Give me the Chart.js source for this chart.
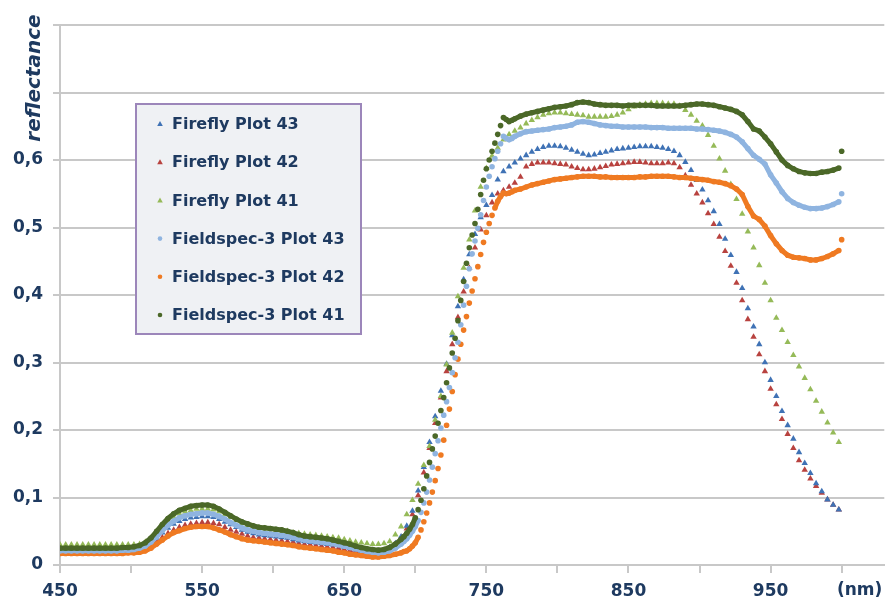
<!DOCTYPE html>
<html>
<head>
<meta charset="utf-8">
<title>Reflectance spectra</title>
<script src="https://cdn.jsdelivr.net/npm/chart.js@4.4.1/dist/chart.umd.min.js"></script>
<style>
  html, body { margin: 0; padding: 0; background: #ffffff; }
  #wrap { width: 888px; height: 603px; }
</style>
</head>
<body>
<div id="wrap"><canvas id="c" width="888" height="603"></canvas></div>
<script>
// ---- sampling wavelengths (nm) ----
function range(a, b, step) { const out = []; for (let v = a; v <= b; v += step) out.push(v); return out; }
const fireflyNm = range(450, 998, 4);
const fieldspecNm = range(450, 690, 4).concat(range(692, 770, 2), range(774, 998, 4), [1000]);

// ---- series labels ----
const seriesLabels = ['Firefly Plot 43', 'Firefly Plot 42', 'Firefly Plot 41',
                      'Fieldspec-3 Plot 43', 'Fieldspec-3 Plot 42', 'Fieldspec-3 Plot 41'];

// ---- axis tick labels ----
const xLabelValues = [450, 550, 650, 750, 850, 950];
const yLabelValues = [0, 0.1, 0.2, 0.3, 0.4, 0.5, 0.6];
const xUnitLabel = '(nm)';
const yTitle = 'reflectance';

// ---- Firefly reflectance (450..998 nm, 4 nm step) ----
const firefly43 = [
  .022,.022,.022,.022,.022,.022,.022,.022,.022,.022,
  .022,.022,.022,.023,.025,.028,.033,.040,.048,.055,
  .061,.065,.068,.070,.071,.072,.072,.071,.068,.064,
  .060,.056,.052,.049,.047,.045,.044,.043,.042,.041,
  .040,.038,.036,.035,.034,.033,.032,.031,.030,.029,
  .027,.025,.023,.021,.020,.019,.020,.022,.026,.032,
  .042,.058,.080,.110,.145,.182,.220,.258,.298,.340,
  .383,.423,.460,.490,.515,.533,.548,.571,.583,.590,
  .596,.602,.607,.612,.616,.619,.621,.621,.620,.618,
  .615,.612,.609,.607,.608,.610,.612,.614,.616,.617,
  .618,.619,.620,.620,.620,.619,.618,.616,.613,.607,
  .597,.585,.570,.556,.540,.524,.505,.483,.459,.434,
  .410,.380,.353,.327,.300,.274,.250,.228,.207,.187,
  .167,.151,.136,.121,.109,.097,.089,.082
];
const firefly42 = [
  .019,.019,.019,.019,.019,.019,.019,.019,.019,.019,
  .019,.019,.019,.020,.022,.025,.029,.035,.041,.047,
  .052,.056,.059,.061,.062,.063,.063,.062,.060,.056,
  .052,.049,.046,.043,.041,.040,.039,.038,.037,.036,
  .035,.034,.032,.031,.030,.029,.028,.027,.026,.025,
  .023,.022,.020,.019,.018,.017,.018,.020,.025,.031,
  .040,.054,.075,.103,.137,.173,.210,.248,.287,.327,
  .367,.405,.440,.470,.497,.518,.537,.550,.555,.560,
  .566,.575,.590,.594,.596,.596,.596,.595,.594,.593,
  .590,.588,.586,.586,.587,.589,.591,.593,.594,.595,
  .596,.597,.597,.596,.595,.595,.595,.596,.595,.589,
  .577,.563,.550,.537,.521,.505,.486,.465,.443,.418,
  .392,.364,.338,.312,.287,.261,.238,.216,.194,.173,
  .155,.141,.128,.117,.107,.097,.089,.082
];
const firefly41 = [
  .030,.030,.030,.030,.030,.030,.030,.030,.030,.030,
  .030,.030,.030,.030,.031,.034,.040,.048,.057,.065,
  .071,.076,.079,.081,.083,.083,.083,.082,.079,.075,
  .071,.066,.062,.059,.057,.055,.054,.053,.052,.051,
  .050,.048,.047,.046,.045,.044,.043,.042,.041,.040,
  .038,.036,.034,.033,.032,.031,.031,.032,.035,.045,
  .057,.075,.096,.120,.148,.176,.215,.250,.297,.344,
  .398,.440,.482,.525,.560,.588,.606,.618,.630,.638,
  .643,.648,.654,.659,.663,.667,.669,.670,.670,.669,
  .668,.667,.666,.664,.664,.664,.664,.665,.667,.670,
  .675,.679,.682,.683,.684,.684,.684,.683,.683,.680,
  .674,.667,.658,.651,.637,.621,.602,.584,.564,.542,
  .520,.494,.470,.444,.418,.392,.366,.348,.330,.311,
  .294,.277,.260,.243,.227,.211,.196,.182
];

// ---- Fieldspec-3 reflectance (450..690 by 4, 692..770 by 2, 774..998 by 4, 1000) ----
const fieldspec43 = [
  .021,.021,.021,.021,.021,.021,.021,.021,.021,.021,
  .021,.022,.022,.023,.025,.028,.034,.042,.051,.059,
  .065,.070,.073,.075,.076,.077,.077,.075,.072,.068,
  .063,.059,.055,.052,.050,.048,.047,.046,.045,.044,
  .043,.041,.039,.037,.036,.035,.034,.033,.032,.030,
  .028,.026,.024,.022,.020,.019,.018,.019,.021,.025,
  .031,
  .035,.039,.044,.050,.057,.066,.078,.092,.108,.126,
  .145,.165,.184,.203,.222,.242,.263,.285,.307,.330,
  .356,.385,.413,.439,.461,.480,.499,.519,.540,.560,
  .576,.590,.602,.613,.624,.635,.632,.630,.632,.635,
  .639,.642,.643,.644,.645,.646,.648,.649,.650,.652,
  .656,.657,.656,.654,.652,.651,.650,.650,.649,.649,
  .649,.649,.649,.648,.648,.648,.647,.647,.647,.647,
  .647,.646,.646,.645,.644,.643,.641,.638,.634,.627,
  .617,.607,.601,.594,.578,.566,.553,.543,.537,.533,
  .530,.528,.528,.529,.531,.534,.538,
  .550
];
const fieldspec42 = [
  .017,.017,.017,.017,.017,.017,.017,.017,.017,.017,
  .017,.017,.018,.018,.019,.021,.025,.031,.037,.043,
  .048,.051,.054,.056,.057,.057,.057,.055,.052,.049,
  .045,.042,.039,.037,.036,.035,.034,.033,.032,.031,
  .030,.029,.027,.026,.025,.024,.023,.022,.021,.019,
  .018,.016,.015,.014,.013,.012,.012,.013,.014,.016,
  .018,
  .020,.021,.024,.028,.033,.041,.052,.064,.077,.092,
  .108,.125,.143,.163,.185,.207,.231,.257,.282,.305,
  .327,.348,.368,.388,.406,.424,.442,.460,.478,.493,
  .506,.518,.529,.539,.546,.551,.550,.551,.553,.555,
  .557,.560,.563,.565,.567,.569,.571,.572,.573,.574,
  .575,.576,.576,.576,.575,.575,.574,.574,.574,.574,
  .574,.575,.575,.576,.576,.576,.576,.575,.574,.574,
  .573,.572,.571,.570,.568,.567,.565,.562,.557,.549,
  .531,.517,.512,.502,.488,.476,.466,.459,.456,.455,
  .454,.452,.452,.454,.457,.461,.466,
  .482
];
const fieldspec41 = [
  .025,.025,.025,.025,.025,.025,.025,.025,.025,.025,
  .025,.026,.026,.027,.029,.033,.040,.050,.060,.069,
  .076,.081,.084,.087,.088,.089,.089,.087,.083,.078,
  .073,.068,.064,.061,.058,.056,.055,.054,.053,.052,
  .050,.048,.045,.043,.042,.041,.040,.039,.037,.035,
  .033,.031,.028,.026,.024,.023,.022,.023,.026,.031,
  .038,
  .042,.047,.053,.060,.070,.082,.096,.113,.132,.152,
  .172,.191,.210,.229,.248,.270,.292,.314,.336,.362,
  .392,.420,.447,.470,.489,.506,.527,.549,.570,.587,
  .600,.613,.625,.638,.651,.663,.660,.657,.659,.661,
  .665,.668,.670,.672,.674,.676,.678,.679,.680,.682,
  .685,.686,.685,.683,.682,.681,.681,.681,.680,.681,
  .681,.681,.681,.681,.680,.680,.680,.680,.680,.681,
  .682,.683,.683,.682,.681,.679,.677,.675,.672,.667,
  .657,.646,.643,.634,.624,.612,.600,.592,.587,.583,
  .581,.580,.580,.582,.583,.585,.588,
  .613
];

// ---- series styles ----
const seriesColors = ['#3f72b5', '#b8423f', '#95ba58', '#8fb4e0', '#ef7a22', '#4b6828'];
const seriesShapes = ['triangle', 'triangle', 'triangle', 'circle', 'circle', 'circle'];
const seriesNm = [fireflyNm, fireflyNm, fireflyNm, fieldspecNm, fieldspecNm, fieldspecNm];
const seriesValues = [firefly43, firefly42, firefly41, fieldspec43, fieldspec42, fieldspec41];
const seriesDrawOrder = [4, 5, 3, 1, 2, 0]; // lower draws on top

const FONT = '"DejaVu Sans", "Liberation Sans", sans-serif';
const NAVY = '#1e3a60';
const GRID = '#c8c8c8';
const CLEAR = 'rgba(0,0,0,0)';

const datasets = seriesLabels.map((label, i) => {
  const dense = seriesShapes[i] === 'circle';
  return {
    label,
    data: seriesNm[i].map((nm, k) => ({ x: nm, y: seriesValues[i][k] })),
    // Fieldspec samples are dense: join them into a thick trace where the
    // curve is gentle, and leave the steep stretches as separate dots.
    showLine: dense,
    borderColor: seriesColors[i],
    borderWidth: dense ? 5 : 0,
    segment: dense ? {
      borderColor: (c) => {
        const dx = Math.abs(c.p1.x - c.p0.x) || 1;
        return Math.abs(c.p1.y - c.p0.y) / dx > 2.5 ? CLEAR : seriesColors[i];
      }
    } : undefined,
    pointStyle: seriesShapes[i],
    pointRadius: dense ? 2.8 : 3.7,
    pointBackgroundColor: seriesColors[i],
    pointBorderWidth: 0,
    pointHoverRadius: 0,
    order: seriesDrawOrder[i]
  };
});

// Legend panel, axis title and unit label drawn on the canvas
const decorations = {
  id: 'decorations',
  afterDraw(chart) {
    const ctx = chart.ctx;
    const area = chart.chartArea;
    const xs = chart.scales.x;

    // y axis title, rotated
    ctx.save();
    ctx.translate(35, 78);
    ctx.rotate(-Math.PI / 2);
    ctx.font = 'italic bold 20px ' + FONT;
    ctx.fillStyle = NAVY;
    ctx.textAlign = 'center';
    ctx.textBaseline = 'middle';
    ctx.fillText(yTitle, 0, 0);
    ctx.restore();

    // unit label next to the last x tick
    ctx.save();
    ctx.font = 'bold 17px ' + FONT;
    ctx.fillStyle = NAVY;
    ctx.textAlign = 'center';
    ctx.textBaseline = 'middle';
    ctx.fillText(xUnitLabel, xs.getPixelForValue(1000) + 18, area.bottom + 26);
    ctx.restore();

    // legend panel
    const bx = area.left + 76, by = area.top + 79, bw = 225, bh = 230;
    ctx.save();
    ctx.fillStyle = '#eff1f4';
    ctx.fillRect(bx, by, bw, bh);
    ctx.strokeStyle = '#9c86ba';
    ctx.lineWidth = 2;
    ctx.strokeRect(bx, by, bw, bh);
    ctx.font = 'bold 16px ' + FONT;
    ctx.textAlign = 'left';
    ctx.textBaseline = 'middle';
    seriesLabels.forEach((label, i) => {
      const y = by + 20 + i * 38.2;
      const mx = bx + 24;
      ctx.fillStyle = seriesColors[i];
      ctx.beginPath();
      if (seriesShapes[i] === 'triangle') {
        ctx.moveTo(mx, y - 3);
        ctx.lineTo(mx + 2.8, y + 2);
        ctx.lineTo(mx - 2.8, y + 2);
        ctx.closePath();
      } else {
        ctx.arc(mx, y, 2.3, 0, Math.PI * 2);
      }
      ctx.fill();
      ctx.fillStyle = NAVY;
      ctx.fillText(label, bx + 36, y + 1);
    });
    ctx.restore();
  }
};

new Chart(document.getElementById('c'), {
  type: 'scatter',
  data: { datasets },
  options: {
    responsive: false,
    animation: false,
    events: [],
    layout: { padding: { top: 25, right: 0, bottom: 0, left: 0 } },
    plugins: { legend: { display: false }, tooltip: { enabled: false } },
    scales: {
      x: {
        type: 'linear',
        min: 450,
        max: 1030,
        afterFit(scale) { scale.height = 38; },
        ticks: {
          stepSize: 50,
          includeBounds: false,
          autoSkip: false,
          maxRotation: 0,
          padding: 8,
          color: NAVY,
          font: { family: FONT, size: 17, weight: 'bold' },
          callback: (v) => xLabelValues.includes(v) ? String(v) : ''
        },
        grid: { drawOnChartArea: false, drawTicks: true, tickLength: 8, color: GRID, lineWidth: 2 },
        border: { display: true, color: GRID, width: 2 }
      },
      y: {
        min: 0,
        max: 0.8,
        afterFit(scale) { scale.width = 60; },
        ticks: {
          stepSize: 0.1,
          padding: 10,
          color: NAVY,
          font: { family: FONT, size: 17, weight: 'bold' },
          callback: (v) => {
            const r = Math.round(v * 10) / 10;
            if (!yLabelValues.includes(r)) return '';
            return r === 0 ? '0' : r.toFixed(1).replace('.', ',');
          }
        },
        grid: { color: GRID, lineWidth: 2, tickLength: 7, drawTicks: true },
        border: { display: true, color: GRID, width: 2 }
      }
    }
  },
  plugins: [decorations]
});
</script>
</body>
</html>
